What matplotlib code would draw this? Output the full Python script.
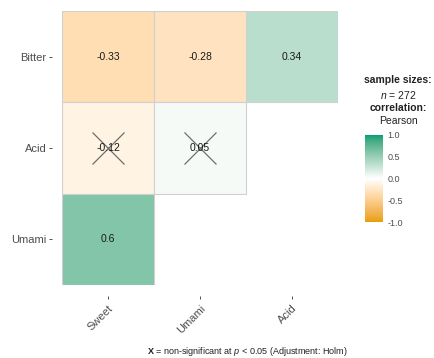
import numpy as np
import matplotlib.pyplot as plt
from matplotlib.colors import ListedColormap, Normalize, to_rgb
from matplotlib.colorbar import ColorbarBase
from matplotlib.patches import Rectangle

plt.rcParams['font.family'] = ['Liberation Sans', 'DejaVu Sans']
plt.rcParams['mathtext.fontset'] = 'custom'
plt.rcParams['mathtext.rm'] = 'Liberation Sans'
plt.rcParams['mathtext.it'] = 'Liberation Sans:italic'
plt.rcParams['mathtext.bf'] = 'Liberation Sans:bold'

row_labels = ['Bitter', 'Acid', 'Umami']
col_labels = ['Sweet', 'Umami', 'Acid']
# correlation coefficients, rows top to bottom (lower triangle only)
r_values = [
    [-0.33, -0.28, 0.34],
    [-0.12, 0.05, np.nan],
    [0.60, np.nan, np.nan],
]
significant = [
    [True, True, True],
    [False, False, False],
    [True, False, False],
]
n_obs = 272


# gradient interpolated in CIE Lab, like ggplot's scale_fill_gradient2
def srgb_to_lab(c):
    c = np.asarray(c, dtype=float)
    lin = np.where(c <= 0.04045, c / 12.92, ((c + 0.055) / 1.055) ** 2.4)
    M = np.array([[0.4124, 0.3576, 0.1805],
                  [0.2126, 0.7152, 0.0722],
                  [0.0193, 0.1192, 0.9505]])
    xyz = M @ lin / np.array([0.95047, 1.0, 1.08883])
    f = np.where(xyz > 0.008856, np.cbrt(xyz), 7.787 * xyz + 16 / 116)
    return np.array([116 * f[1] - 16, 500 * (f[0] - f[1]), 200 * (f[1] - f[2])])


def lab_to_srgb(lab):
    L, a, b = lab
    fy = (L + 16) / 116
    fx = fy + a / 500
    fz = fy - b / 200
    f = np.array([fx, fy, fz])
    xyz = np.where(f ** 3 > 0.008856, f ** 3, (f - 16 / 116) / 7.787)
    xyz = xyz * np.array([0.95047, 1.0, 1.08883])
    Minv = np.array([[3.2406, -1.5372, -0.4986],
                     [-0.9689, 1.8758, 0.0415],
                     [0.0557, -0.2040, 1.0570]])
    lin = Minv @ xyz
    c = np.where(lin <= 0.0031308, 12.92 * lin, 1.055 * np.abs(lin) ** (1 / 2.4) - 0.055)
    return np.clip(c, 0, 1)


low, mid, high = [srgb_to_lab(to_rgb(c)) for c in ('#E69F00', '#FFFFFF', '#009E73')]
cols = []
for t in np.linspace(-1, 1, 256):
    lab = mid + (low - mid) * (-t) if t < 0 else mid + (high - mid) * t
    cols.append(lab_to_srgb(lab))
cmap = ListedColormap(cols)
norm = Normalize(-1, 1)

W, H = 435, 358
fig = plt.figure(figsize=(W / 100, H / 100), dpi=100)

def px_axes(x0, y0, x1, y1):
    return fig.add_axes([x0 / W, 1 - y1 / H, (x1 - x0) / W, (y1 - y0) / H])

ax = px_axes(62, 11, 338, 285)
# ticks sit a little away from the tiles (set before the tick labels,
# moving a spine resets them)
ax.spines['left'].set_position(('outward', 7))
ax.spines['bottom'].set_position(('outward', 8))
ax.set_xlim(0, 3)
ax.set_ylim(3, 0)

for i in range(3):
    for j in range(3):
        v = r_values[i][j]
        if np.isnan(v):
            continue
        ax.add_patch(Rectangle((j, i), 1, 1, facecolor=cmap(norm(v)),
                               edgecolor='#d0d0d0', linewidth=0.8))
        ax.text(j + 0.5, i + 0.5, f'{v:g}', ha='center', va='center',
                fontsize=7.5, color='#1a1a1a')
        if not significant[i][j]:
            ax.plot(j + 0.5, i + 0.5, marker='x', markersize=23,
                    color='#555555', mew=0.9, alpha=0.85)

ax.set_xticks(np.arange(3) + 0.5)
ax.set_xticklabels(col_labels, rotation=45, ha='right', va='top',
                   rotation_mode='anchor')
ax.set_yticks(np.arange(3) + 0.5)
ax.set_yticklabels(row_labels)
ax.tick_params(axis='both', length=2, width=0.6, color='#333333', labelsize=8,
               labelcolor='#4d4d4d')
ax.tick_params(axis='x', pad=3)
ax.tick_params(axis='y', pad=2)
for s in ax.spines.values():
    s.set_visible(False)

# legend block
lx = 398
fig.text(lx / W, 1 - 80 / H, 'sample sizes:', ha='center', va='center',
         fontsize=7.5, fontweight='bold', color='#222222')
fig.text(lx / W, 1 - 95 / H, '$n$ = %d' % n_obs, ha='center', va='center',
         fontsize=7.5, color='#222222')
fig.text(lx / W, 1 - 108 / H, 'correlation:', ha='center', va='center',
         fontsize=7.5, fontweight='bold', color='#222222')
fig.text(lx / W, 1 - 121 / H, 'Pearson', ha='center', va='center',
         fontsize=7.5, color='#222222')

cax = px_axes(365, 135, 383, 222)
cb = ColorbarBase(cax, cmap=cmap, norm=norm, ticks=[-1, -0.5, 0, 0.5, 1])
cb.outline.set_visible(False)
cb.set_ticklabels(['-1.0', '-0.5', '0.0', '0.5', '1.0'])
cax.tick_params(length=0, labelsize=6.5, labelcolor='#4d4d4d', pad=3)

fig.text(247 / W, 1 - 351 / H,
         r'$\mathbf{X}$ = non-significant at $p$ < 0.05 (Adjustment: Holm)',
         ha='center', va='center', fontsize=6.5, color='#222222')

fig.savefig('out.png', dpi=100)
